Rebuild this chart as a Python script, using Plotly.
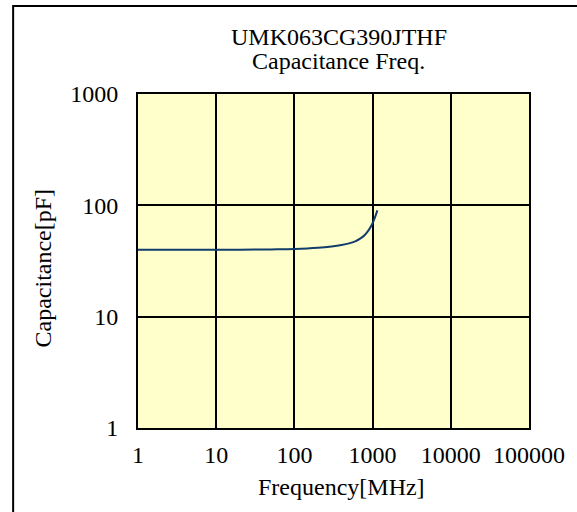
import plotly.graph_objects as go

# Data
freq_mhz = [1, 2, 5, 10, 20, 50, 100, 200, 300, 400, 500, 600, 700, 800, 900, 1000, 1050, 1100, 1150]
cap_pf = [40, 40, 40, 40, 40, 40.2, 40.5, 41.5, 42.7, 44, 45.5, 47.5, 50.5, 54.5, 60.5, 69, 75, 82, 90]

x_tickvals = [1, 10, 100, 1000, 10000, 100000]
x_ticktext = ["1", "10", "100", "1000", "10000", "100000"]
y_tickvals = [1, 10, 100, 1000]
y_ticktext = ["1", "10", "100", "1000"]

title_line1 = "UMK063CG390JTHF"
title_line2 = "Capacitance Freq."
x_title = "Frequency[MHz]"
y_title = "Capacitance[pF]"

W, H = 577, 512
ML, MR, MT, MB = 138, 46, 94, 84
PW, PH = W - ML - MR, H - MT - MB

def px(xp):
    return (xp - ML) / PW

def py(yp):
    return (H - MB - yp) / PH

FONT = "Liberation Serif, Times New Roman, serif"
FS = 24

fig = go.Figure()
fig.add_trace(go.Scatter(
    x=freq_mhz, y=cap_pf, mode="lines",
    line=dict(color="#103d6b", width=2, shape="spline"),
    showlegend=False, hoverinfo="skip",
))

axis_common = dict(
    showgrid=True, gridcolor="black", gridwidth=2,
    showline=True, linecolor="black", linewidth=2, mirror=True,
    ticks="", zeroline=False,
    tickfont=dict(family=FONT, size=FS, color="black"),
)

fig.update_xaxes(type="log", range=[0, 5], tickvals=x_tickvals, ticktext=x_ticktext,
                 ticklabelstandoff=4, **axis_common)
fig.update_yaxes(type="log", range=[0, 3], tickvals=y_tickvals, ticktext=y_ticktext,
                 ticklabelstandoff=13, **axis_common)

annotations = [
    dict(text=title_line1, x=px(340), y=py(37), xanchor="center", yanchor="middle"),
    dict(text=title_line2, x=px(340), y=py(61), xanchor="center", yanchor="middle"),
    dict(text=x_title, x=px(343), y=py(487), xanchor="center", yanchor="middle"),
    dict(text=y_title, x=px(43), y=py(268), xanchor="center", yanchor="middle", textangle=-90),
]
for a in annotations:
    a.update(xref="paper", yref="paper", showarrow=False,
             font=dict(family=FONT, size=FS, color="black"))

fig.update_layout(
    width=W, height=H,
    margin=dict(l=ML, r=MR, t=MT, b=MB, pad=0),
    paper_bgcolor="white", plot_bgcolor="#ffffcc",
    annotations=annotations,
    shapes=[dict(type="rect", xref="paper", yref="paper",
                 x0=px(12.5), y0=py(560), x1=px(620), y1=py(6),
                 line=dict(color="black", width=2), fillcolor="rgba(0,0,0,0)", layer="above")],
)

fig.write_html("out.html", config={"displayModeBar": False},
               post_script="document.body.style.margin='0';document.body.style.overflow='hidden';")
